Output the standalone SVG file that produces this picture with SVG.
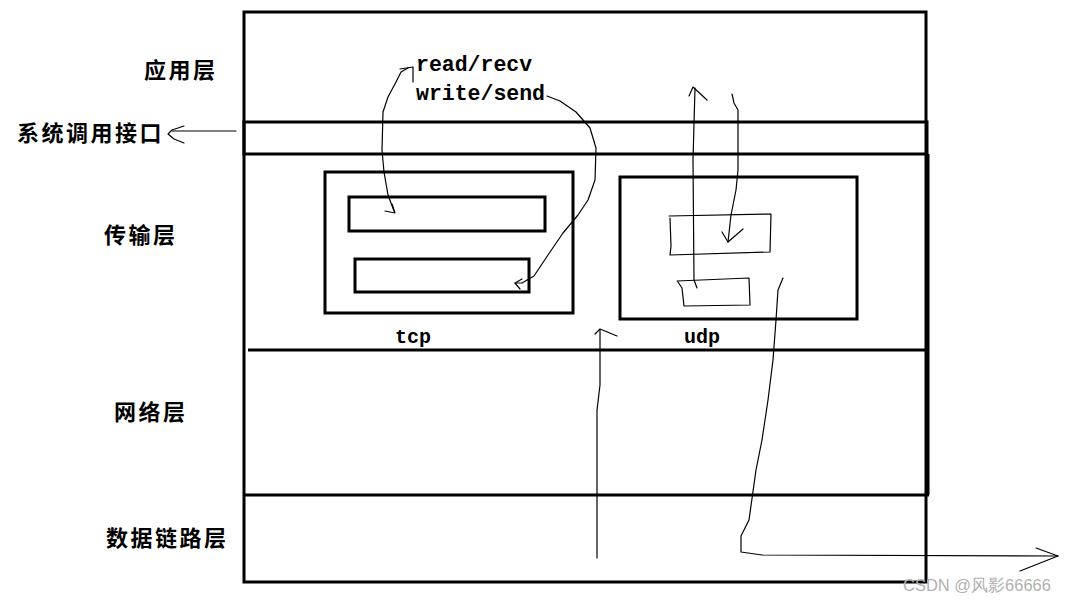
<svg xmlns="http://www.w3.org/2000/svg" width="1065" height="603" viewBox="0 0 1065 603">
<style>
.box{fill:none;stroke:#000;stroke-width:3}
.hand{fill:none;stroke:#000;stroke-width:1.2;stroke-linejoin:round;stroke-linecap:round}
.cn{font-family:"Noto Sans CJK SC","Noto Sans CJK JP",sans-serif;font-size:22px;font-weight:bold;fill:#000;letter-spacing:2.5px}
.mono{font-family:"Liberation Mono","DejaVu Sans Mono",monospace;font-size:21.5px;font-weight:bold;fill:#000}
.lbl{font-family:"Liberation Mono",monospace;font-size:20px;font-weight:bold;fill:#000}
.wm{font-family:"Liberation Sans",Arial,sans-serif;font-size:16.5px;fill:#b0b0b0}
</style>
<rect width="1065" height="603" fill="#fff"/>
<g id="layers">
<rect class="box" x="244" y="12" width="682" height="570"/>
<rect class="box" x="244" y="122" width="683" height="32"/>
<line class="box" x1="928" y1="154" x2="928" y2="495"/>
<line class="box" x1="248" y1="350" x2="927" y2="350"/>
<line class="box" x1="244" y1="495" x2="929" y2="495"/>
</g>
<g id="tcp">
<rect class="box" x="325" y="172" width="248" height="141"/>
<rect class="box" x="349" y="197" width="196" height="34"/>
<rect class="box" x="355" y="259" width="174" height="33"/>
<text class="lbl" x="395" y="343">tcp</text>
</g>
<g id="udp">
<rect class="box" x="620" y="177" width="237" height="142"/>
<path class="hand" d="M669 216 L771 214 L770 252 L670 255 L671 246 L670 218"/>
<path class="hand" d="M677 281 L749 278 L750 305 L684 306 L682 288 L678 282"/>
<text class="lbl" x="684" y="343">udp</text>
</g>
<g id="labels">
<text class="cn" x="144" y="78">应用层</text>
<text class="cn" x="17" y="141">系统调用接口</text>
<text class="cn" x="104" y="243">传输层</text>
<text class="cn" x="114" y="420">网络层</text>
<text class="cn" x="106" y="546">数据链路层</text>
<text class="mono" x="416" y="71">read/recv</text>
<text class="mono" x="416" y="100">write/send</text>
</g>
<g id="connectors">
<path class="hand" d="M236 131 L172 131"/>
<path class="hand" d="M184 126 L172 130 L168 134 L174 139 L184 143"/>
<path class="hand" d="M400 69 L413 67 L413 82"/>
<path class="hand" d="M408 68 L401 72 L396 82 L388 97 L383 112 L382 150 L384 172 L388 195 L394 211"/>
<path class="hand" d="M385 211 L395 213 L392 204"/>
<path class="hand" d="M547 96 L560 101 L576 112 L590 128 L596 148 L595 180 L588 200 L578 215 L563 233 L548 255 L534 276 L522 283 L515 283"/>
<path class="hand" d="M522 279 L515 283 L520 289"/>
<path class="hand" d="M697 288 L694 280 L693 160 L695 88"/>
<path class="hand" d="M689 96 L693 87 L707 100"/>
<path class="hand" d="M732 94 L734 103 L738 110 L738 170 L736 190 L731 215 L728 242"/>
<path class="hand" d="M722 232 L728 242 L743 229"/>
<path class="hand" d="M783 278 L778 290 L776 320 L773 360 L768 400 L762 440 L756 470 L749 520 L741 536 L741 552 L762 555 L1058 556"/>
<path class="hand" d="M1036 548 L1058 556 L1020 571"/>
<path class="hand" d="M597 558 L597 410 L600 385 L600 330"/>
<path class="hand" d="M595 334 L600 329 L617 336"/>
</g>
<text class="wm" x="903" y="591">CSDN @风影66666</text>
</svg>
